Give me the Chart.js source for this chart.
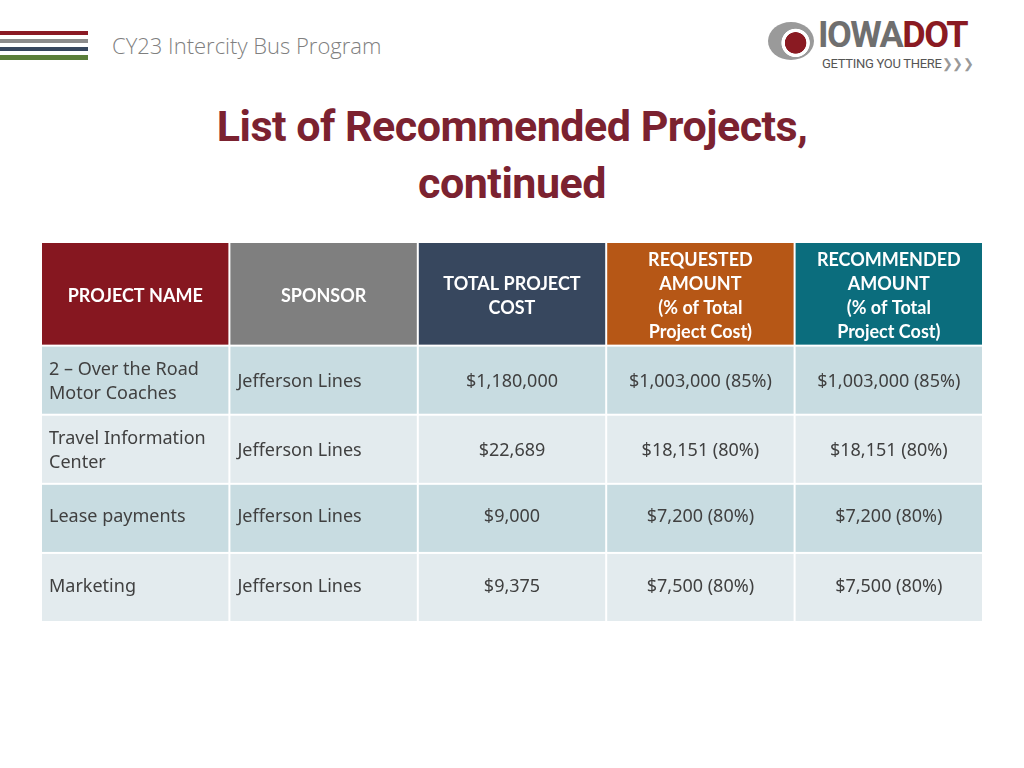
<!DOCTYPE html>
<html>
<head>
<meta charset="utf-8">
<script src="https://cdn.jsdelivr.net/npm/chart.js@4"></script>
<style>
  body { margin: 0; background: #fff; width: 1024px; height: 768px; position: relative; overflow: hidden; font-family: "Open Sans", sans-serif; }
  .stripe { position: absolute; left: 0; width: 88px; height: 4px; }
  #sub { position: absolute; left: 112px; top: 30px; font-size: 22px; color: #7f7f7f; font-weight: 300; }
  #title { position: absolute; left: 0; width: 1024px; top: 98px; text-align: center; font-family: Roboto, sans-serif; font-weight: bold; font-size: 43px; line-height: 57px; color: #7b2230; letter-spacing: -0.5px; }
  #logo { position: absolute; left: 768px; top: 20px; width: 230px; height: 55px; white-space: nowrap; }
  #swirl { position: absolute; left: 0; top: 2px; width: 46px; height: 38px; border-radius: 50%; background: radial-gradient(circle at 60% 55%, #8a1a22 30%, #fff 32%, #fff 40%, #9a9a9a 42%); }
  #iowa { position: absolute; left: 50px; top: -6px; font-family: Roboto, sans-serif; font-weight: bold; font-size: 36px; color: #6f6f6f; letter-spacing: -1.5px; }
  #iowa span { color: #8a1a22; }
  #tag { position: absolute; left: 54px; top: 36px; font-family: Roboto, sans-serif; font-size: 13px; color: #555; letter-spacing: -0.3px; }
  #wrap { position: absolute; left: 0; top: 0; width: 1024px; height: 768px; }
</style>
</head>
<body>
<div class="stripe" style="top:31px;background:#8b1a24"></div>
<div class="stripe" style="top:39px;background:#8c8c8c"></div>
<div class="stripe" style="top:47px;background:#37475e"></div>
<div class="stripe" style="top:55px;height:5px;background:#5b7f3a"></div>
<div id="sub">CY23 Intercity Bus Program</div>
<div id="logo"><div id="swirl"></div><div id="iowa">IOWA<span>DOT</span></div><div id="tag">GETTING YOU THERE<span style="color:#999">&#x276F;&#x276F;&#x276F;</span></div></div>
<div id="title">List of Recommended Projects,<br>continued</div>
<div id="wrap"><canvas id="tbl" width="1024" height="768"></canvas></div>
<script>
const headers = ['PROJECT NAME', 'SPONSOR', 'TOTAL PROJECT\nCOST', 'REQUESTED\nAMOUNT\n(% of Total\nProject Cost)', 'RECOMMENDED\nAMOUNT\n(% of Total\nProject Cost)'];
const headerColors = ['#861720', '#7f7f7f', '#37475e', '#b65716', '#0b6d7d'];
const projects = ['2 \u2013 Over the Road\nMotor Coaches', 'Travel Information\nCenter', 'Lease payments', 'Marketing'];
const sponsors = ['Jefferson Lines', 'Jefferson Lines', 'Jefferson Lines', 'Jefferson Lines'];
const totalCost = ['$1,180,000', '$22,689', '$9,000', '$9,375'];
const requested = ['$1,003,000 (85%)', '$18,151 (80%)', '$7,200 (80%)', '$7,500 (80%)'];
const recommended = ['$1,003,000 (85%)', '$18,151 (80%)', '$7,200 (80%)', '$7,500 (80%)'];
const rowColors = ['#c8dce1', '#e3ebee'];

const HEADER_UNITS = 1.5;
const columns = [projects, sponsors, totalCost, requested, recommended];

const tablePlugin = {
  id: 'tablePlugin',
  afterDraw(chart) {
    const ctx = chart.ctx, xs = chart.scales.x, ys = chart.scales.y;
    const colW = (xs.right - xs.left) / headers.length;
    const gap = 1;
    function cell(c, top, bottom, fill, text, opts) {
      const xc = xs.getPixelForValue(c);
      const x0 = xc - colW / 2, x1 = xc + colW / 2;
      const y0 = ys.getPixelForValue(top), y1 = ys.getPixelForValue(bottom);
      ctx.fillStyle = fill;
      ctx.fillRect(x0 + gap, y0 + gap, x1 - x0 - 2 * gap, y1 - y0 - 2 * gap);
      const lines = text.split('\n');
      ctx.font = opts.font;
      ctx.fillStyle = opts.color;
      ctx.textBaseline = 'middle';
      ctx.textAlign = opts.align;
      const tx = opts.align === 'center' ? xc : x0 + 8;
      const ym = (y0 + y1) / 2 + (opts.dy || 0);
      lines.forEach((l, i) => ctx.fillText(l, tx, ym + (i - (lines.length - 1) / 2) * opts.lh));
    }
    ctx.save();
    headers.forEach((h, c) => cell(c, 0, HEADER_UNITS, headerColors[c], h,
      { font: 'bold 18px Lato, sans-serif', color: '#fff', align: 'center', lh: 24, dy: 2 }));
    projects.forEach((p, r) => {
      const top = HEADER_UNITS + r, bottom = top + 1;
      columns.forEach((col, c) => cell(c, top, bottom, rowColors[r % 2], col[r],
        { font: '18px "Noto Sans", sans-serif', color: '#404040', align: c < 2 ? 'left' : 'center', lh: 24, dy: r >= 2 ? -1 : 2 }));
    });
    ctx.restore();
  }
};

new Chart(document.getElementById('tbl'), {
  type: 'scatter',
  data: { labels: headers, datasets: [{ data: [] }] },
  options: {
    responsive: false,
    animation: false,
    layout: { padding: { left: 41, right: 41, top: 242, bottom: 146 } },
    plugins: { legend: { display: false }, tooltip: { enabled: false } },
    scales: {
      x: { type: 'linear', min: -0.5, max: headers.length - 0.5, display: false },
      y: { type: 'linear', reverse: true, min: 0, max: HEADER_UNITS + projects.length, display: false }
    }
  },
  plugins: [tablePlugin]
});
</script>
</body>
</html>
